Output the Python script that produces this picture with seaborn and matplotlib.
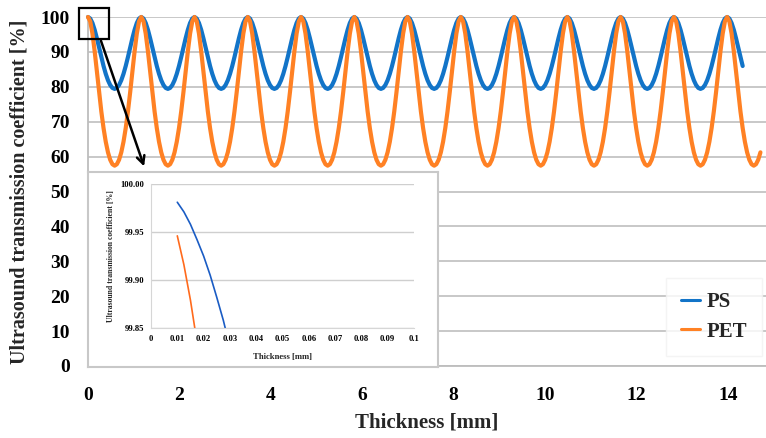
import numpy as np
import pandas as pd
import seaborn as sns
import matplotlib.pyplot as plt
from matplotlib.lines import Line2D
from matplotlib.patches import Rectangle

# one oscillation (peak -> trough -> next peak), 24 steps per period
period_mm = 1.165
ps_period = [100.0, 99.56, 98.29, 96.34, 93.91, 91.23, 88.52, 85.96, 83.71, 81.87, 80.51, 79.68, 79.40,
             79.68, 80.51, 81.87, 83.71, 85.96, 88.52, 91.23, 93.91, 96.34, 98.29, 99.56]
pet_period = [100.0, 98.75, 95.26, 90.20, 84.35, 78.43, 72.94, 68.17, 64.25, 61.22, 59.09, 57.82, 57.40,
              57.82, 59.09, 61.22, 64.25, 68.17, 72.94, 78.43, 84.35, 90.20, 95.26, 98.75]
n_periods = 13
ps_end_mm = 14.33
pet_end_mm = 14.72

# inset (zoom of the first 0.03 mm)
inset_thickness = [0.01, 0.0125, 0.015, 0.0175, 0.02, 0.0225, 0.025, 0.0275, 0.03]
inset_ps = [99.981, 99.971, 99.958, 99.942, 99.925, 99.905, 99.882, 99.858, 99.830]
inset_pet = [99.946, 99.916, 99.879, 99.835, 99.784, 99.740, 99.690, 99.640, 99.590]

materials = ["PS", "PET"]
colors = {"PS": "#1274c8", "PET": "#ff8124"}
inset_colors = {"PS": "#1a5cc4", "PET": "#ff6a1c"}

step = period_mm / len(ps_period)
thick = np.arange(n_periods * len(ps_period) + 1) * step
ps_vals = list(ps_period) * n_periods + [100.0]
pet_vals = list(pet_period) * n_periods + [100.0]
df_ps = pd.DataFrame({"thickness": thick, "value": ps_vals, "material": "PS"})
df_pet = pd.DataFrame({"thickness": thick, "value": pet_vals, "material": "PET"})
df_ps = df_ps[df_ps.thickness <= ps_end_mm]
df_pet = df_pet[df_pet.thickness <= pet_end_mm]
df = pd.concat([df_ps, df_pet], ignore_index=True)

df_in = pd.DataFrame({
    "thickness": inset_thickness * 2,
    "value": inset_ps + inset_pet,
    "material": ["PS"] * len(inset_ps) + ["PET"] * len(inset_pet),
})

sns.set_style("white")
plt.rcParams["font.family"] = ["Liberation Serif", "DejaVu Serif"]
plt.rcParams["font.weight"] = "bold"
plt.rcParams["axes.labelweight"] = "bold"

W, H = 766, 438
fig = plt.figure(figsize=(W / 100, H / 100), dpi=100)


def fx(px):
    return px / W


def fy(py):
    return 1 - py / H


ax = fig.add_axes([fx(88), fy(366), fx(766) - fx(88), fy(17) - fy(366)])
sns.lineplot(data=df, x="thickness", y="value", hue="material", palette=colors,
             hue_order=materials, estimator=None, sort=False, linewidth=3,
             legend=False, ax=ax, clip_on=False, zorder=3)
ax.set_xlim(0, 14.83)
ax.set_ylim(0, 100)
ax.set_xticks(range(0, 15, 2))
ax.set_yticks(range(0, 101, 10))
ax.yaxis.grid(True, color="#c4c4c4", linewidth=1.3)
ax.xaxis.grid(False)
for s in ["top", "right"]:
    ax.spines[s].set_visible(False)
for s in ["left", "bottom"]:
    ax.spines[s].set_color("#bdbdbd")
    ax.spines[s].set_linewidth(1.3)
ax.tick_params(axis="both", length=0, labelsize=14, colors="black")
ax.tick_params(axis="x", pad=15)
ax.tick_params(axis="y", pad=13)
ax.set_xlabel("Thickness [mm]", fontsize=15, labelpad=6)
ax.set_ylabel("Ultrasound transmission coefficient [%]", fontsize=14.5, labelpad=8)

handles = [Line2D([0], [0], color=colors[m], lw=2.2) for m in materials]
leg = fig.legend(handles, materials, loc="center", bbox_to_anchor=(fx(714), fy(317)),
                 fontsize=15, frameon=True, fancybox=False, handlelength=0.95,
                 handletextpad=0.3, labelspacing=0.45, borderpad=0.7, borderaxespad=0)
leg.get_frame().set_edgecolor("#f2f2f2")
leg.get_frame().set_facecolor("white")
leg.set_zorder(5)

# inset frame and inset axes
frame = fig.add_axes([fx(88), fy(367), fx(438) - fx(88), fy(172) - fy(367)])
frame.set_xticks([])
frame.set_yticks([])
frame.set_facecolor("white")
for s in frame.spines.values():
    s.set_color("#c8c8c8")
    s.set_linewidth(1.5)
frame.set_zorder(2)

axi = fig.add_axes([fx(151), fy(328), fx(414) - fx(151), fy(184) - fy(328)])
axi.set_zorder(3)
sns.lineplot(data=df_in, x="thickness", y="value", hue="material", palette=inset_colors,
             hue_order=materials, estimator=None, sort=False, linewidth=1.2,
             legend=False, ax=axi)
axi.set_xlim(0, 0.1)
axi.set_ylim(99.85, 100.0)
axi.set_xticks(np.arange(0, 11) / 100)
axi.set_xticklabels(["0"] + ["%.2f" % (i / 100) for i in range(1, 10)] + ["0.1"])
axi.set_yticks([99.85, 99.90, 99.95, 100.00])
axi.set_yticklabels(["99.85", "99.90", "99.95", "100.00"])
axi.yaxis.grid(True, color="#cfcfcf", linewidth=1.0)
axi.xaxis.grid(False)
for s in ["top", "right"]:
    axi.spines[s].set_visible(False)
for s in ["left", "bottom"]:
    axi.spines[s].set_color("#d6d6d6")
axi.tick_params(axis="both", length=0, labelsize=6.2, colors="black")
axi.tick_params(axis="x", pad=5)
axi.tick_params(axis="y", pad=5)
axi.set_xlabel("Thickness [mm]", fontsize=6.2, labelpad=7)
axi.set_ylabel("Ultrasound transmission coefficient [%]", fontsize=5.6, labelpad=4)

# zoom box and arrow
fig.patches.append(Rectangle((fx(79), fy(39)), fx(109) - fx(79), fy(8) - fy(39),
                             transform=fig.transFigure, fill=False, edgecolor="black",
                             linewidth=1.6, zorder=6))
fig.patches[-1].set_figure(fig)
ax.annotate("", xy=(fx(145), fy(169)), xycoords="figure fraction",
            xytext=(fx(100), fy(38)), textcoords="figure fraction",
            arrowprops=dict(arrowstyle="->", color="black", lw=1.8,
                            mutation_scale=14), zorder=6, annotation_clip=False)

fig.savefig("out.png", dpi=100)
